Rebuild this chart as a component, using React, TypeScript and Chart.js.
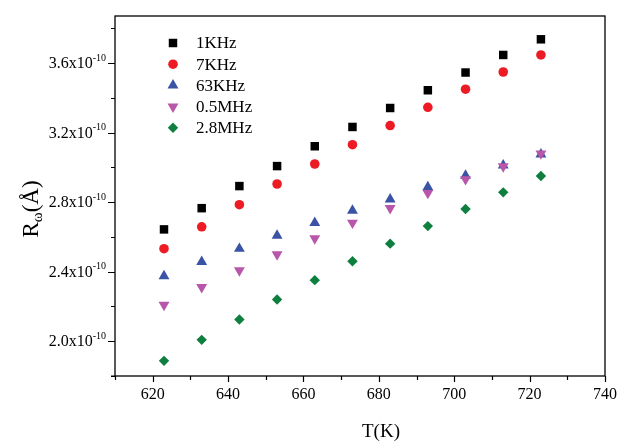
import React, { useEffect, useRef } from 'react';
import { Chart, registerables } from 'chart.js';
import { drawPoint } from 'chart.js/helpers';

Chart.register(...registerables);

const UNIT = 1e-10;
const temperatures = [623, 633, 643, 653, 663, 673, 683, 693, 703, 713, 723];
const r1KHz = [2.643, 2.765, 2.892, 3.007, 3.121, 3.232, 3.341, 3.443, 3.545, 3.646, 3.736];
const r7KHz = [2.532, 2.658, 2.785, 2.904, 3.019, 3.130, 3.240, 3.345, 3.449, 3.548, 3.646];
const r63KHz = [2.374, 2.457, 2.532, 2.608, 2.681, 2.751, 2.816, 2.886, 2.952, 3.011, 3.075];
const r05MHz = [2.209, 2.311, 2.407, 2.499, 2.591, 2.681, 2.765, 2.852, 2.931, 3.005, 3.079];
const r28MHz = [1.887, 2.008, 2.125, 2.240, 2.351, 2.460, 2.561, 2.662, 2.760, 2.856, 2.950];

const seriesNames = ['1KHz', '7KHz', '63KHz', '0.5MHz', '2.8MHz'];
const seriesValues = [r1KHz, r7KHz, r63KHz, r05MHz, r28MHz];
const seriesColors = ['#000000', '#ED1C24', '#3A53A4', '#B857A9', '#0E7F3F'];
const seriesStyles = ['rect', 'circle', 'triangle', 'triangle', 'rectRot'];
const seriesRotation = [0, 0, 0, 180, 0];
const seriesRadius = [6, 4.8, 6.3, 6.3, 5.2];

const xMin = 610;
const xMax = 740;
const yMin = 1.8;
const yMax = 3.87;
const xMajorTicks = [620, 640, 660, 680, 700, 720, 740];
const xMinorTicks = [610, 630, 650, 670, 690, 710, 730];
const yMajorTicks = [2.0, 2.4, 2.8, 3.2, 3.6];
const yMinorTicks = [1.8, 2.2, 2.6, 3.0, 3.4, 3.8];

const xTitle = 'T(K)';
const FONT = '"Liberation Serif", "Times New Roman", serif';

const decorPlugin = {
  id: 'decor',
  afterDraw(chart: any) {
    const ctx = chart.ctx as CanvasRenderingContext2D;
    const { left, right, top, bottom } = chart.chartArea;
    const xs = chart.scales.x;
    const ys = chart.scales.y;
    ctx.save();
    ctx.strokeStyle = '#000';
    ctx.fillStyle = '#000';
    ctx.lineWidth = 1.3;
    ctx.strokeRect(left, top, right - left, bottom - top);

    // x ticks
    ctx.lineWidth = 1.2;
    ctx.beginPath();
    xMajorTicks.forEach((v) => {
      const px = Math.round(xs.getPixelForValue(v)) + 0.5;
      ctx.moveTo(px, bottom);
      ctx.lineTo(px, bottom + 6);
    });
    xMinorTicks.forEach((v) => {
      const px = Math.round(xs.getPixelForValue(v)) + 0.5;
      ctx.moveTo(px, bottom);
      ctx.lineTo(px, bottom + 4);
    });
    ctx.moveTo(left - 4, bottom);
    ctx.lineTo(left, bottom);
    // y ticks
    yMajorTicks.forEach((v) => {
      const py = Math.round(ys.getPixelForValue(v * UNIT)) + 0.5;
      ctx.moveTo(left, py);
      ctx.lineTo(left - 7, py);
    });
    yMinorTicks.forEach((v) => {
      const py = Math.round(ys.getPixelForValue(v * UNIT)) + 0.5;
      ctx.moveTo(left, py);
      ctx.lineTo(left - 4, py);
    });
    ctx.stroke();

    // x tick labels
    ctx.font = `16px ${FONT}`;
    ctx.textAlign = 'center';
    ctx.textBaseline = 'middle';
    xMajorTicks.forEach((v) => {
      ctx.fillText(String(v), xs.getPixelForValue(v), bottom + 19);
    });

    // y tick labels with superscript
    yMajorTicks.forEach((v) => {
      const py = ys.getPixelForValue(v * UNIT);
      const main = v.toFixed(1) + 'x10';
      const sup = '-10';
      ctx.font = `16px ${FONT}`;
      const mw = ctx.measureText(main).width;
      ctx.font = `10px ${FONT}`;
      const sw = ctx.measureText(sup).width;
      const xr = left - 9;
      ctx.textAlign = 'left';
      ctx.textBaseline = 'middle';
      ctx.font = `16px ${FONT}`;
      ctx.fillText(main, xr - mw - sw, py + 1);
      ctx.font = `10px ${FONT}`;
      ctx.fillText(sup, xr - sw, py - 5);
    });

    // x title
    ctx.font = `19px ${FONT}`;
    ctx.textAlign = 'center';
    ctx.textBaseline = 'middle';
    ctx.fillText(xTitle, 381, 432);

    // y title R_ω(Å), rotated
    ctx.save();
    ctx.translate(30, 209);
    ctx.rotate(-Math.PI / 2);
    ctx.textBaseline = 'alphabetic';
    ctx.textAlign = 'left';
    ctx.font = `23px ${FONT}`;
    const wR = ctx.measureText('R').width;
    ctx.font = `15px ${FONT}`;
    const wW = ctx.measureText('ω').width;
    ctx.font = `23px ${FONT}`;
    const wP = ctx.measureText('(Å)').width;
    const total = wR + wW + wP;
    let cx = -total / 2;
    ctx.font = `23px ${FONT}`;
    ctx.fillText('R', cx, 8);
    cx += wR;
    ctx.font = `15px ${FONT}`;
    ctx.fillText('ω', cx, 12);
    cx += wW;
    ctx.font = `23px ${FONT}`;
    ctx.fillText('(Å)', cx, 8);
    ctx.restore();

    // legend
    const lx = 173;
    const ly0 = 43;
    const ldy = 21.2;
    seriesNames.forEach((name, i) => {
      const y = ly0 + i * ldy;
      ctx.fillStyle = seriesColors[i];
      drawPoint(ctx, {
        pointStyle: seriesStyles[i],
        radius: seriesRadius[i],
        rotation: seriesRotation[i],
        borderWidth: 0,
      } as any, lx, y);
      ctx.fillStyle = '#000';
      ctx.font = `17px ${FONT}`;
      ctx.textAlign = 'left';
      ctx.textBaseline = 'middle';
      ctx.fillText(name, 196, y + 1);
    });
    ctx.restore();
  },
};

export default function App() {
  const ref = useRef<HTMLCanvasElement>(null);
  useEffect(() => {
    if (!ref.current) return;
    const datasets = seriesNames.map((name, i) => ({
      label: name,
      data: temperatures.map((t, j) => ({ x: t, y: seriesValues[i][j] * UNIT })),
      showLine: false,
      pointStyle: seriesStyles[i],
      pointRotation: seriesRotation[i],
      pointRadius: seriesRadius[i],
      pointHoverRadius: seriesRadius[i],
      backgroundColor: seriesColors[i],
      borderColor: seriesColors[i],
      borderWidth: 0,
      order: 4 - i,
    }));
    const chart = new Chart(ref.current, {
      type: 'scatter',
      data: { datasets } as any,
      options: {
        animation: false,
        responsive: false,
        maintainAspectRatio: false,
        layout: { padding: { left: 115, top: 16, right: 12, bottom: 66 } },
        plugins: { legend: { display: false }, tooltip: { enabled: false } },
        scales: {
          x: { type: 'linear', min: xMin, max: xMax, display: false },
          y: { type: 'linear', min: yMin * UNIT, max: yMax * UNIT, display: false },
        },
      } as any,
      plugins: [decorPlugin],
    });
    return () => chart.destroy();
  }, []);
  return (
    <div style={{ position: 'absolute', left: 0, top: 0, width: 617, height: 442, background: '#fff' }}>
      <canvas ref={ref} width={617} height={442} style={{ display: 'block' }} />
    </div>
  );
}
